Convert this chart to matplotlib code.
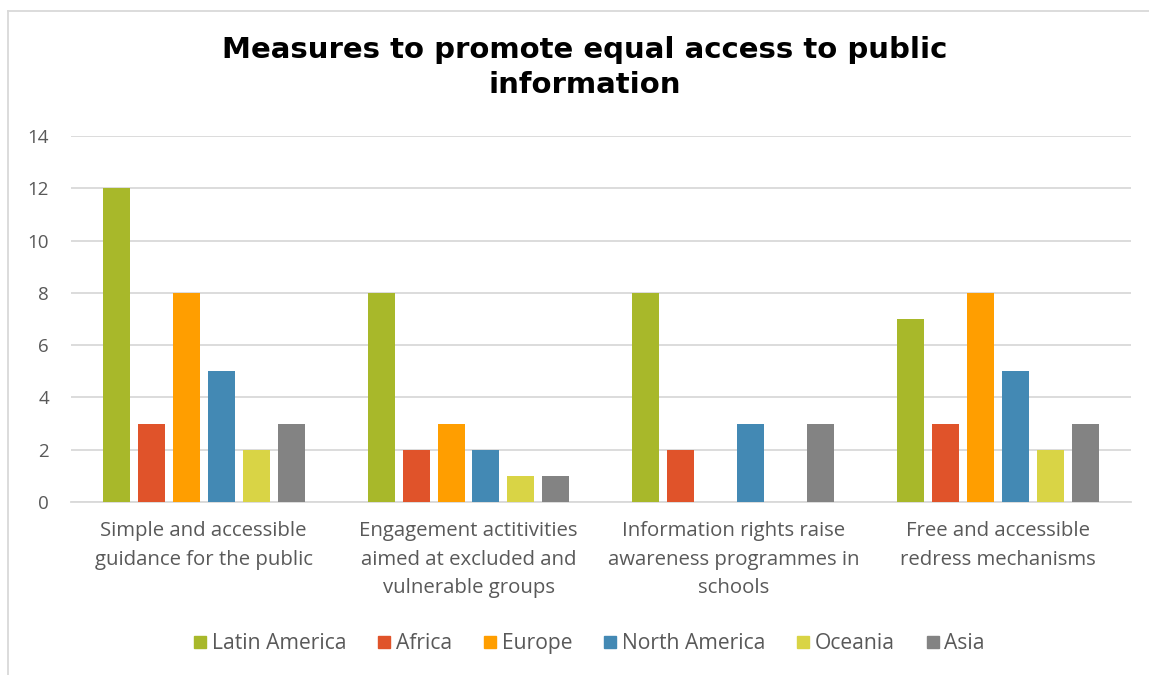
import numpy as np
import matplotlib.pyplot as plt
from matplotlib.lines import Line2D

plt.rcParams['font.family'] = ['Open Sans', 'DejaVu Sans']

categories = ["Simple and accessible\nguidance for the public",
              "Engagement actitivities\naimed at excluded and\nvulnerable groups",
              "Information rights raise\nawareness programmes in\nschools",
              "Free and accessible\nredress mechanisms"]
regions = ["Latin America", "Africa", "Europe", "North America", "Oceania", "Asia"]
latin_america = [12, 8, 8, 7]
africa = [3, 2, 2, 3]
europe = [8, 3, 0, 8]
north_america = [5, 2, 3, 5]
oceania = [2, 1, 0, 2]
asia = [3, 1, 3, 3]
colors = ["#A8B82A", "#E0532A", "#FF9E00", "#4389B4", "#D9D445", "#838383"]

series = [latin_america, africa, europe, north_america, oceania, asia]

fig = plt.figure(figsize=(11.49, 6.75), dpi=100)
ax = fig.add_axes([0.062, 0.2563, 0.922, 0.5422])

x = np.arange(len(categories))
slot = 0.132
width = 0.102
for i, (vals, name, c) in enumerate(zip(series, regions, colors)):
    ax.bar(x + (i - 2.5) * slot, vals, width, color=c, label=name, zorder=3)

ax.set_xlim(-0.5, len(categories) - 0.5)
ax.set_ylim(0, 14)
ax.set_yticks(range(0, 15, 2))
ax.grid(axis='y', color='#d9d9d9', linewidth=1.3, zorder=0)
for s in ['top', 'right', 'left']:
    ax.spines[s].set_visible(False)
ax.spines['bottom'].set_color('#d9d9d9')
ax.spines['bottom'].set_linewidth(1.3)
ax.tick_params(axis='y', length=0, labelsize=13.5, labelcolor='#595959', pad=16)
ax.tick_params(axis='x', length=0, labelsize=14.7, labelcolor='#595959', pad=14)
ax.set_xticks(x)
ax.set_xticklabels(categories, linespacing=1.55)

fig.text(0.509, 0.9, "Measures to promote equal access to public\ninformation",
         ha='center', va='center', fontsize=21, fontweight='bold',
         family='DejaVu Sans', linespacing=1.3)

handles = [Line2D([0], [0], marker='s', linestyle='', markersize=9,
                  color=c) for c in colors]
fig.legend(handles, regions, loc='center', bbox_to_anchor=(0.511, 0.046),
           ncol=6, frameon=False, fontsize=15.2, labelcolor='#595959',
           handletextpad=0.05, columnspacing=1.3, handlelength=1.0)

# chart frame (left and top edges visible)
fig.add_artist(Line2D([0.007, 0.007], [0.0, 0.984], color='#d9d9d9',
                      linewidth=1.3, transform=fig.transFigure))
fig.add_artist(Line2D([0.007, 1.0], [0.984, 0.984], color='#d9d9d9',
                      linewidth=1.3, transform=fig.transFigure))

fig.savefig("out.png", dpi=100)
